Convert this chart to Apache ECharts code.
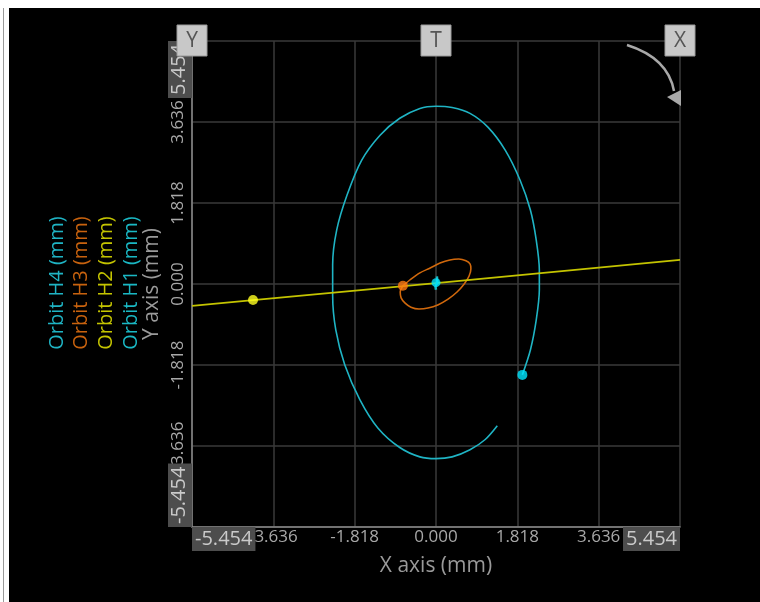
<!DOCTYPE html>
<html><head><meta charset="utf-8">
<script src="https://cdn.jsdelivr.net/npm/echarts@6/dist/echarts.min.js"></script>
<style>html,body{margin:0;padding:0;background:#fff}#c{width:760px;height:602px}</style>
</head><body><div id="c"></div>
<script>
// ---- data ----
const axisMin = -5.454, axisMax = 5.454, axisStep = 1.818;
const seriesNames = ['Orbit H4 (mm)', 'Orbit H3 (mm)', 'Orbit H2 (mm)', 'Orbit H1 (mm)'];
const orbitH4 = [[1.93,-2.04],[2.11,-1.48],[2.24,-0.81],[2.31,-0.13],[2.31,0.31],[2.24,0.99],[2.11,1.66],
  [1.88,2.33],[1.55,3.00],[1.16,3.52],[0.76,3.83],[0.36,3.96],[0,3.99],[-0.36,3.94],[-0.81,3.72],
  [-1.25,3.34],[-1.66,2.78],[-1.99,1.99],[-2.22,1.21],[-2.31,0.43],[-2.31,-0.25],[-2.24,-1.03],
  [-2.04,-1.81],[-1.70,-2.60],[-1.30,-3.23],[-0.81,-3.67],[-0.36,-3.88],[0,-3.92],[0.36,-3.88],
  [0.76,-3.72],[1.10,-3.49],[1.37,-3.18]];
const orbitH3 = [[-0.74,-0.04],[-0.80,-0.18],[-0.78,-0.31],[-0.69,-0.43],[-0.56,-0.52],[-0.38,-0.56],
  [-0.18,-0.54],[0.04,-0.47],[0.27,-0.34],[0.47,-0.18],[0.63,0.00],[0.74,0.18],[0.78,0.34],[0.76,0.45],
  [0.67,0.52],[0.51,0.56],[0.31,0.54],[0.09,0.47],[-0.13,0.36],[-0.36,0.25],[-0.56,0.11],[-0.74,-0.04]];
const orbitH2 = [[-5.454,-0.49],[-4.09,-0.36],[0,0.02],[5.454,0.54]];
const orbitH1 = [[0.02,0.17],[0.03,0.05],[-0.01,-0.06],[0.0,-0.13]];
const keyDotH4 = [1.93,-2.04];
const keyDotH3 = [-0.74,-0.04];
const keyDotH2 = [-4.09,-0.36];
const keyDotH1 = [0.0,0.03];
const cornerTags = ['Y', 'T', 'X'];

// ---- style ----
const colH4 = '#1fb4c4', colH3 = '#d0680c', colH2 = '#c4c400', colH1 = '#1ab8c4';
const FONT = 'Open Sans';

function fmt(v) {
  if (Math.abs(v) < 1e-9) v = 0;
  return v.toFixed(3);
}

const chart = echarts.init(document.getElementById('c'), null, {renderer: 'canvas'});
const lineSeries = (name, data, color, w) => ({
  name, type: 'line', data, smooth: 0.3, showSymbol: false, symbol: 'none',
  lineStyle: {color, width: w}, silent: true, animation: false
});
const dotSeries = (name, p, color, size) => ({
  name, type: 'scatter', data: [p], symbolSize: size, itemStyle: {color}, z: 5, animation: false
});
const labelStyle = {color: '#a8a8a8', fontSize: 17, fontFamily: FONT};

chart.setOption({
  backgroundColor: 'transparent',
  animation: false,
  textStyle: {fontFamily: FONT},
  grid: {left: 192, right: 80, top: 41, bottom: 75, containLabel: false},
  xAxis: {
    type: 'value', min: axisMin, max: axisMax, interval: axisStep,
    name: 'X axis (mm)', nameLocation: 'middle', nameGap: 29,
    nameTextStyle: {color: '#9a9a9a', fontSize: 21, fontFamily: FONT},
    axisLine: {show: true, onZero: false, lineStyle: {color: '#8a8a8a', width: 1.5}},
    axisTick: {show: false},
    splitLine: {show: true, lineStyle: {color: '#3a3a3a', width: 1.5}},
    axisLabel: Object.assign({margin: 2, showMinLabel: false, showMaxLabel: false, formatter: fmt}, labelStyle)
  },
  yAxis: {
    type: 'value', min: axisMin, max: axisMax, interval: axisStep,
    name: 'Y axis (mm)', nameLocation: 'middle', nameGap: 22, nameRotate: 90,
    nameTextStyle: {color: '#9a9a9a', fontSize: 21, fontFamily: FONT},
    axisLine: {show: true, onZero: false, lineStyle: {color: '#8a8a8a', width: 1.5}},
    axisTick: {show: false},
    splitLine: {show: true, lineStyle: {color: '#3a3a3a', width: 1.5}},
    axisLabel: Object.assign({margin: 5, rotate: 90, showMinLabel: false, showMaxLabel: false, formatter: fmt}, labelStyle)
  },
  series: [
    lineSeries(seriesNames[0], orbitH4, colH4, 1.6),
    lineSeries(seriesNames[1], orbitH3, colH3, 1.6),
    {name: seriesNames[2], type: 'line', data: orbitH2, showSymbol: false, symbol: 'none',
     lineStyle: {color: colH2, width: 1.8}, animation: false},
    lineSeries(seriesNames[3], orbitH1, colH1, 2.5),
    dotSeries(seriesNames[0], keyDotH4, '#00e6ff', 10),
    dotSeries(seriesNames[1], keyDotH3, '#ff7a10', 10),
    dotSeries(seriesNames[2], keyDotH2, '#ffff20', 10),
    dotSeries(seriesNames[3], keyDotH1, '#00e6ff', 9)
  ]
});

// ---- decorations ----
const px = p => chart.convertToPixel({gridIndex: 0}, p);
const tagPos = [axisMin, 0, axisMax].map(x => px([x, axisMax]));
const [x0, yB] = px([axisMin, axisMin]);
const [x1, yT] = px([axisMax, axisMax]);
const legendX = [57, 81, 106, 131];
const legendColors = [colH4, '#c8620e', colH2, colH1];
const boxFont = '20px "' + FONT + '"';
const boxStyle = (text, align, vAlign, pad) => ({text, fill: '#cacaca', font: boxFont, align, verticalAlign: vAlign,
  backgroundColor: '#4d4d4d', padding: pad, lineHeight: 23});
const graphics = [
  {type: 'rect', z: -100, silent: true, shape: {x: 0, y: 0, width: 760, height: 602}, style: {fill: '#ffffff'}},
  {type: 'rect', z: -99, silent: true, shape: {x: 3, y: 8, width: 1, height: 594}, style: {fill: '#9a9a9a'}},
  {type: 'rect', z: -98, silent: true, shape: {x: 9, y: 8, width: 751, height: 594}, style: {fill: '#000000'}},
  // axis end-value boxes
  {type: 'text', z: 60, silent: true, x: x0, y: yB, style: boxStyle(fmt(axisMin), 'left', 'top', [1, 3, 0, 3])},
  {type: 'text', z: 60, silent: true, x: x1, y: yB, style: boxStyle(fmt(axisMax), 'right', 'top', [1, 3, 0, 3])},
  {type: 'text', z: 60, silent: true, x: x0, y: yT, rotation: Math.PI / 2, style: boxStyle(fmt(axisMax), 'right', 'bottom', [0, 3, 1, 3])},
  {type: 'text', z: 60, silent: true, x: x0, y: yB, rotation: Math.PI / 2, style: boxStyle(fmt(axisMin), 'left', 'bottom', [0, 3, 1, 3])}
];
cornerTags.forEach((t, i) => {
  const [tx, ty] = tagPos[i];
  graphics.push({type: 'rect', z: 70, silent: true,
    shape: {x: tx - 15, y: ty - 16, width: 30, height: 31},
    style: {fill: '#c8c8c8', stroke: '#9a9a9a', lineWidth: 1}});
  graphics.push({type: 'text', z: 71, silent: true, x: tx, y: ty,
    style: {text: t, fill: '#555555', font: '21px "' + FONT + '"', align: 'center', verticalAlign: 'middle'}});
});
const [cx, cy] = tagPos[2];
graphics.push({type: 'bezierCurve', z: 40, silent: true,
  shape: {x1: cx - 53, y1: cy + 4, cpx1: cx - 12, cpy1: cy + 17, x2: cx - 6, y2: cy + 50},
  style: {fill: 'none', stroke: '#a8a8a8', lineWidth: 2.5}});
graphics.push({type: 'polygon', z: 40, silent: true,
  shape: {points: [[cx - 13, cy + 56], [cx + 1, cy + 49], [cx + 1, cy + 65]]},
  style: {fill: '#a8a8a8'}});
seriesNames.forEach((n, i) => {
  graphics.push({type: 'text', z: 30, silent: true, x: legendX[i], y: 283, rotation: Math.PI / 2,
    style: {text: n, fill: legendColors[i], font: '20px "' + FONT + '"', align: 'center', verticalAlign: 'middle'}});
});
chart.setOption({graphic: graphics});
</script></body></html>
